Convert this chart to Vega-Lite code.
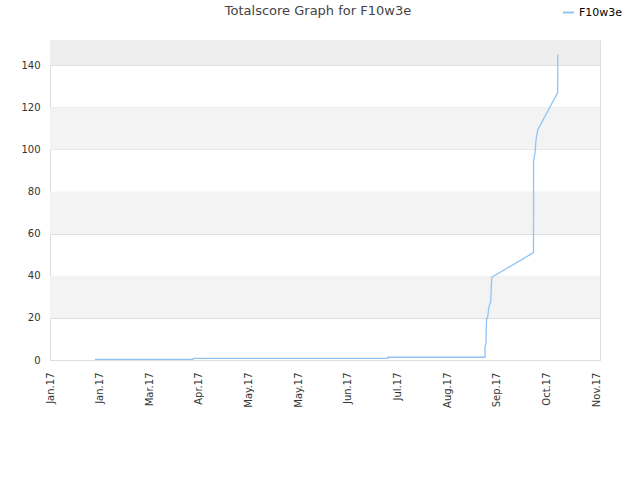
{
  "$schema": "https://vega.github.io/schema/vega-lite/v6.json",
  "width": 550,
  "height": 320,
  "autosize": "none",
  "padding": {"left": 50, "top": 40, "right": 40, "bottom": 120},
  "background": "white",
  "config": {
    "font": "DejaVu Sans",
    "view": {"stroke": "#dddddd", "strokeWidth": 1}
  },
  "title": {
    "text": "Totalscore Graph for F10w3e",
    "anchor": "middle",
    "frame": "group",
    "fontSize": 13,
    "fontWeight": "normal",
    "color": "#444444",
    "font": "DejaVu Sans",
    "dx": -7,
    "offset": -12
  },
  "datasets": {
    "bands": [
      {"lo": 20, "hi": 40, "shade": "a"},
      {"lo": 60, "hi": 80, "shade": "a"},
      {"lo": 100, "hi": 120, "shade": "a"},
      {"lo": 140, "hi": 152, "shade": "b"}
    ],
    "scores": [
      {"date": "2017-01-28T07:00:00Z", "score": 0.3, "player": "F10w3e"},
      {"date": "2017-03-29T00:00:00Z", "score": 0.3, "player": "F10w3e"},
      {"date": "2017-03-29T01:00:00Z", "score": 0.8, "player": "F10w3e"},
      {"date": "2017-07-25T02:00:00Z", "score": 0.8, "player": "F10w3e"},
      {"date": "2017-07-25T03:00:00Z", "score": 1.3, "player": "F10w3e"},
      {"date": "2017-09-22T03:50:00Z", "score": 1.3, "player": "F10w3e"},
      {"date": "2017-09-22T04:00:00Z", "score": 6.3, "player": "F10w3e"},
      {"date": "2017-09-22T18:30:00Z", "score": 8, "player": "F10w3e"},
      {"date": "2017-09-23T01:40:00Z", "score": 19, "player": "F10w3e"},
      {"date": "2017-09-23T19:10:00Z", "score": 20.5, "player": "F10w3e"},
      {"date": "2017-09-24T14:10:00Z", "score": 25.4, "player": "F10w3e"},
      {"date": "2017-09-25T14:50:00Z", "score": 27.5, "player": "F10w3e"},
      {"date": "2017-09-26T05:30:00Z", "score": 39, "player": "F10w3e"},
      {"date": "2017-09-26T14:10:00Z", "score": 39.4, "player": "F10w3e"},
      {"date": "2017-10-21T14:50:00Z", "score": 51, "player": "F10w3e"},
      {"date": "2017-10-21T15:30:00Z", "score": 94.4, "player": "F10w3e"},
      {"date": "2017-10-22T12:40:00Z", "score": 98.4, "player": "F10w3e"},
      {"date": "2017-10-23T03:10:00Z", "score": 104.5, "player": "F10w3e"},
      {"date": "2017-10-24T04:00:00Z", "score": 109.3, "player": "F10w3e"},
      {"date": "2017-11-05T07:30:00Z", "score": 127, "player": "F10w3e"},
      {"date": "2017-11-05T08:00:00Z", "score": 145.2, "player": "F10w3e"}
    ]
  },
  "layer": [
    {
      "data": {"name": "bands"},
      "mark": {"type": "rect", "strokeWidth": 0},
      "encoding": {
        "y": {"field": "lo", "type": "quantitative", "scale": {"domain": [0, 152], "nice": false}},
        "y2": {"field": "hi"},
        "fill": {
          "field": "shade",
          "type": "nominal",
          "scale": {"domain": ["a", "b"], "range": ["#f3f3f3", "#eeeeee"]},
          "legend": null
        }
      }
    },
    {
      "data": {"name": "scores"},
      "mark": {"type": "line", "strokeWidth": 1.3, "interpolate": "linear"},
      "encoding": {
        "x": {
          "field": "date",
          "type": "temporal",
          "scale": {"type": "utc", "domain": [1483228800000, 1512086400000], "nice": false},
          "axis": {
            "title": null,
            "values": [1483228800000, 1485833760000, 1488438720000, 1491043680000, 1493648640000, 1496253600000, 1498858560000, 1501463520000, 1504068480000, 1506673440000, 1509278400000, 1511883360000],
            "labelExpr": "utcFormat(datum.value, '%b.%y')",
            "labelAngle": -90,
            "labelAlign": "right",
            "labelBaseline": "middle",
            "labelFontSize": 10,
            "labelColor": "#333333",
            "labelPadding": 12,
            "ticks": false,
            "grid": false,
            "domain": false,
            "labelFlush": false,
            "labelOverlap": false
          }
        },
        "y": {
          "field": "score",
          "type": "quantitative",
          "scale": {"domain": [0, 152], "nice": false},
          "axis": {
            "title": null,
            "values": [0, 20, 40, 60, 80, 100, 120, 140],
            "labelFontSize": 10,
            "labelColor": "#333333",
            "labelPadding": 10,
            "ticks": false,
            "domain": false,
            "grid": true,
            "gridColor": "#dddddd",
            "gridWidth": 1
          }
        },
        "color": {
          "field": "player",
          "type": "nominal",
          "scale": {"range": ["#90c4f5"]},
          "legend": {
            "title": null,
            "orient": "none",
            "legendX": 512,
            "legendY": -34,
            "symbolType": "stroke",
            "symbolStrokeWidth": 2,
            "symbolSize": 120,
            "labelFontSize": 11,
            "labelColor": "#000000",
            "labelFont": "DejaVu Sans"
          }
        }
      }
    }
  ]
}
